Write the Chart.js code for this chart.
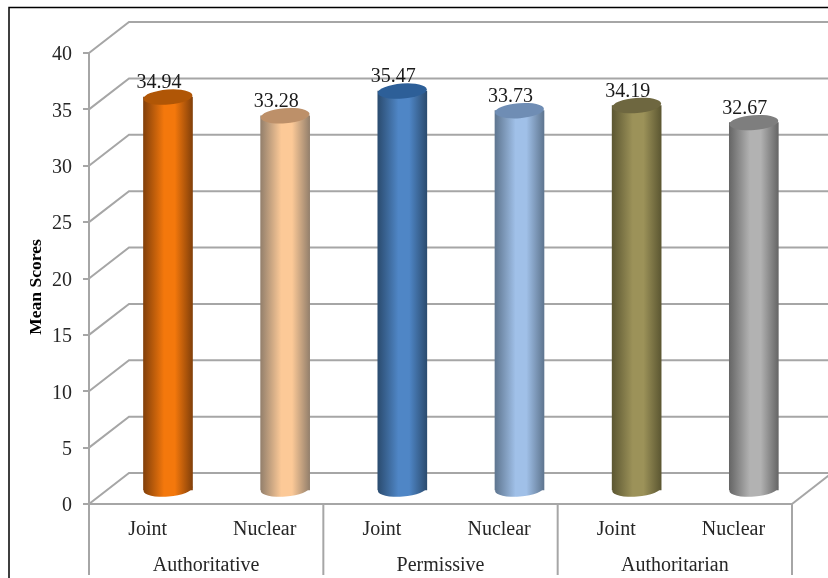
<!DOCTYPE html>
<html><head><meta charset="utf-8">
<style>html,body{margin:0;padding:0;background:#fff}#w{width:828px;height:578px;position:relative}</style>
<script src="https://cdn.jsdelivr.net/npm/chart.js@4"></script>
</head><body><div id="w"><canvas id="c" width="828" height="578"></canvas></div>
<script>
const categories = ['Joint','Nuclear','Joint','Nuclear','Joint','Nuclear'];
const groups = ['Authoritative','Permissive','Authoritarian'];
const values = [34.94,33.28,35.47,33.73,34.19,32.67];
const yTicks = [0,5,10,15,20,25,30,35,40];
const yTitle = 'Mean Scores';
const edgeColors = ['#83400a','#94806c','#2b4c70','#5f7690','#5c5732','#666666'];
const midColors  = ['#f4780c','#fcc997','#4f86c6','#a0c0e8','#9c9259','#b2b2b2'];
const topColors  = ['#b05606','#bd9069','#2d5f98','#6f8db4','#6e6740','#7e7e7e'];
const GRID='#a6a6a6', FONT='"Liberation Serif"', DX=20.4, DY=-13, DEPTHX=40, DEPTHY=31, RX=24.5, RY=7.5, TILT=-4.5*Math.PI/180;

function grad(ctx,x,i){
  const g=ctx.createLinearGradient(x-RX,0,x+RX,0);
  g.addColorStop(0,edgeColors[i]);g.addColorStop(.42,midColors[i]);g.addColorStop(.64,midColors[i]);g.addColorStop(1,edgeColors[i]);
  return g;
}
const walls={id:'walls',
  beforeDraw(c){
    const x=c.ctx,{left,right,bottom}=c.chartArea,y=c.scales.y;
    x.save();x.fillStyle='#fff';x.fillRect(0,0,828,578);
    x.strokeStyle='#000';x.lineWidth=1.5;x.beginPath();x.moveTo(9,578);x.lineTo(9,7.5);x.lineTo(828,7.5);x.stroke();
    x.strokeStyle=GRID;x.lineWidth=2;
    yTicks.forEach(v=>{const p=y.getPixelForValue(v);x.beginPath();x.moveTo(left,p);x.lineTo(left+DEPTHX,p-DEPTHY);x.lineTo(834,p-DEPTHY);x.stroke();});
    x.beginPath();x.moveTo(right,bottom);x.lineTo(right+DEPTHX,bottom-DEPTHY);x.stroke();
    const s=c.scales.x;
    [0,2,4,6].forEach(i=>{const px=i<6?s.getPixelForTick(i)-(s.getPixelForTick(1)-s.getPixelForTick(0))/2:right;x.beginPath();x.moveTo(px,bottom);x.lineTo(px,575);x.stroke();});
    x.beginPath();x.moveTo(left,bottom);x.lineTo(right,bottom);x.stroke();
    x.restore();
  },
  beforeDatasetsDraw(c){c.ctx.save();c.ctx.translate(DX,DY);},
  afterDatasetsDraw(c){
    const x=c.ctx;
    c.getDatasetMeta(0).data.forEach((b,i)=>{
      x.fillStyle=grad(x,b.x,i);
      x.beginPath();x.ellipse(b.x,b.base-1,RX,RY,TILT,0,Math.PI*2);x.fill();
      x.fillStyle=topColors[i];
      x.beginPath();x.ellipse(b.x,b.y,RX,RY,TILT,0,Math.PI*2);x.fill();
      x.fillStyle='#1a1a1a';x.font='20px '+FONT;x.textAlign='center';x.textBaseline='middle';
      x.fillText(values[i].toFixed(2),b.x-9,b.y-14);
    });
    x.restore();
    x.save();x.translate(36,287);x.rotate(-Math.PI/2);
    x.fillStyle='#000';x.font='bold 17.5px '+FONT;x.textAlign='center';x.textBaseline='middle';
    x.fillText(yTitle,0,0);x.restore();
  }
};
new Chart(document.getElementById('c'),{
  type:'bar',
  data:{labels:categories,datasets:[{data:values,barThickness:49,
    backgroundColor:(k)=>{
      const s=k.chart.scales.x, i=k.dataIndex;
      if(!s||i===undefined) return midColors[0];
      const px=s.getPixelForValue(i);
      return Number.isFinite(px)?grad(k.chart.ctx,px,i):midColors[i];
    }}]},
  plugins:[walls],
  options:{responsive:false,animation:false,
    layout:{padding:{left:0,right:36,top:53,bottom:0}},
    plugins:{legend:{display:false},tooltip:{enabled:false}},
    scales:{
      x:{type:'category',position:'bottom',grid:{display:false},border:{display:false},
        ticks:{color:'#262626',font:{family:FONT,size:20},padding:6,maxRotation:0,autoSkip:false},
        afterFit(s){s.height=37;s.paddingLeft=0;s.paddingRight=0;}},
      g:{type:'category',labels:groups,position:'bottom',grid:{display:false},border:{display:false},
        ticks:{color:'#262626',font:{family:FONT,size:20},padding:5,maxRotation:0,autoSkip:false},
        afterFit(s){s.height=37;s.paddingLeft=0;s.paddingRight=0;}},
      y:{min:0,max:40,position:'left',
        grid:{drawOnChartArea:false,tickLength:6,color:GRID,lineWidth:2},
        border:{color:GRID,width:2},
        ticks:{stepSize:5,color:'#262626',font:{family:FONT,size:20},padding:11,labelOffset:2},
        afterFit(s){s.width=89;s.paddingTop=0;s.paddingBottom=0;}}
    }
  }
});
</script></body></html>
